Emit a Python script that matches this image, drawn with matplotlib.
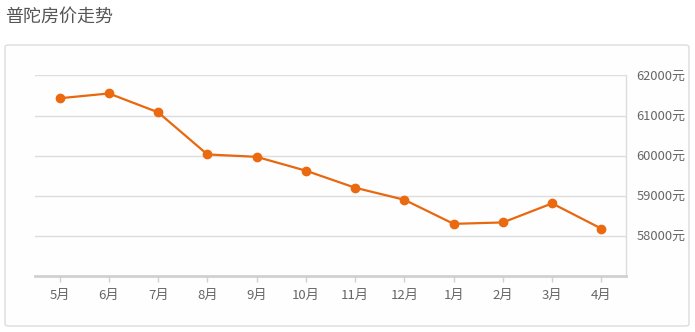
import matplotlib
matplotlib.use("Agg")
import matplotlib.pyplot as plt
from matplotlib.patches import FancyBboxPatch

plt.rcParams['font.family'] = ['Noto Sans CJK SC', 'DejaVu Sans']

title = "普陀房价走势"
months = ["5月", "6月", "7月", "8月", "9月", "10月", "11月", "12月", "1月", "2月", "3月", "4月"]
prices = [61430, 61550, 61080, 60030, 59970, 59625, 59200, 58900, 58300, 58335, 58810, 58180]
yticks = [58000, 59000, 60000, 61000, 62000]
ytick_labels = ["58000元", "59000元", "60000元", "61000元", "62000元"]

W, H = 695, 332
fig = plt.figure(figsize=(W / 100, H / 100), dpi=100)
fig.patch.set_facecolor("white")

# outer rounded frame
box = FancyBboxPatch((5 / W, (H - 326) / H), (689 - 5) / W, (326 - 45) / H,
                     boxstyle="round,pad=0,rounding_size=0.006",
                     transform=fig.transFigure, facecolor="#fefefe",
                     edgecolor="#dcdcdc", linewidth=1.0, zorder=-10)
fig.add_artist(box)

fig.text(5 / W, 1 - 17 / H, title, fontsize=13, color="#555555",
         ha="left", va="center")

ax = fig.add_axes([35 / W, (H - 276) / H, (626 - 35) / W, (276 - 75.4) / H])
ax.set_zorder(5)
ax.set_facecolor("none")

x = list(range(len(months)))
ax.plot(x, prices, color="#e8680f", linewidth=1.6, marker="o",
        markersize=6, markerfacecolor="#eb6a10", markeredgecolor="#eb6a10",
        zorder=3)

ax.set_xlim(-0.5, len(months) - 0.5)
ax.set_ylim(57000, 62000)
ax.set_xticks(x)
ax.set_xticklabels(months)
ax.set_yticks(yticks)
ax.set_yticklabels(ytick_labels)
ax.yaxis.tick_right()

ax.grid(axis="y", color="#dddddd", linewidth=1.0)
ax.set_axisbelow(True)

for s in ["top", "left"]:
    ax.spines[s].set_visible(False)
ax.spines["right"].set_color("#dddddd")
ax.spines["right"].set_linewidth(1.0)
ax.spines["bottom"].set_color("#d0d0d0")
ax.spines["bottom"].set_linewidth(2.0)

ax.tick_params(axis="x", colors="#d0d0d0", length=4, width=1, pad=5,
               labelcolor="#666666", labelsize=9.5)
ax.tick_params(axis="y", length=0, pad=7.5, labelcolor="#666666", labelsize=9.3)

fig.savefig("out.png", dpi=100, facecolor="white")
